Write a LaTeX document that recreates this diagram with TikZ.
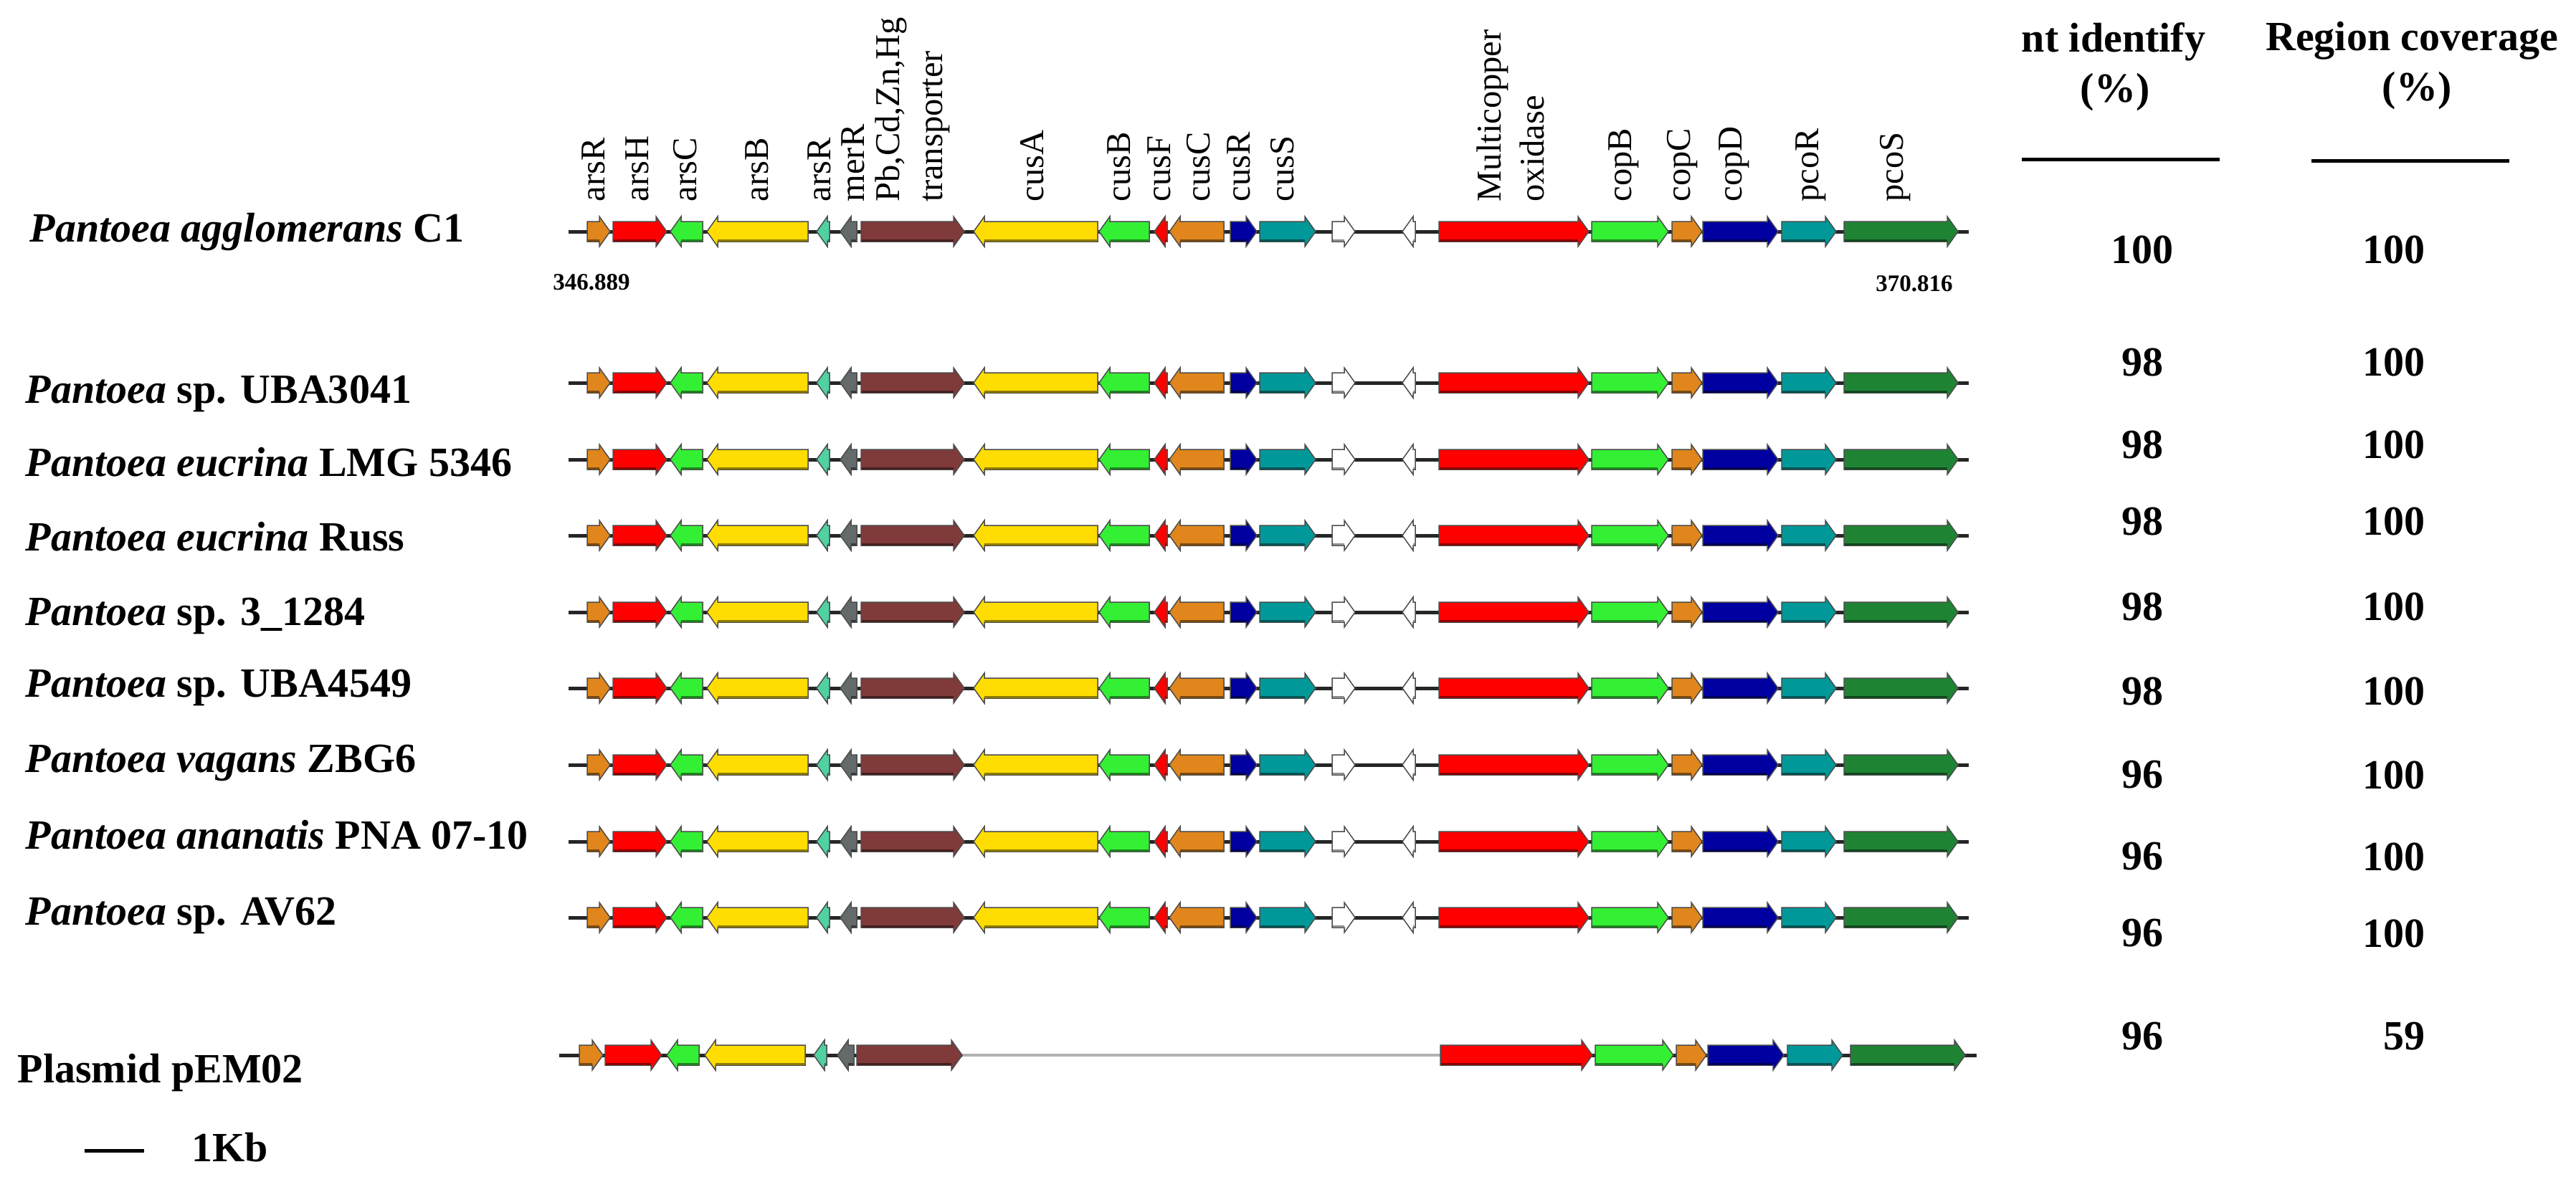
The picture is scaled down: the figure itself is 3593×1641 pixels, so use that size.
\documentclass[tikz,border=0pt]{standalone}
\usepackage{fontspec}
\setmainfont{Liberation Serif}
\definecolor{gorange}{RGB}{224,134,28}
\definecolor{gred}{RGB}{255,0,0}
\definecolor{ggreen}{RGB}{52,240,52}
\definecolor{gyellow}{RGB}{255,221,0}
\definecolor{gaqua}{RGB}{80,210,160}
\definecolor{ggray}{RGB}{100,106,106}
\definecolor{gbrown}{RGB}{128,58,58}
\definecolor{gnavy}{RGB}{0,0,160}
\definecolor{gteal}{RGB}{0,152,152}
\definecolor{gdkgreen}{RGB}{30,132,52}
\definecolor{gwhite}{RGB}{255,255,255}
\tikzset{
  genebox/.style={draw=black!70, line width=0.015cm, line join=miter},
  backbone/.style={line width=0.05cm, black!85},
  species/.style={anchor=base west, inner sep=0pt, font=\fontsize{16.5}{20}\selectfont\bfseries},
  genelab/.style={rotate=90, anchor=west, inner sep=0pt, font=\fontsize{13.8}{17}\selectfont, align=left},
  numlab/.style={inner sep=0pt, font=\fontsize{16.5}{20}\selectfont\bfseries},
  headlab/.style={anchor=base, inner sep=0pt, font=\fontsize{16.5}{20}\selectfont\bfseries},
  coordlab/.style={inner sep=0pt, font=\fontsize{9.4}{11}\selectfont\bfseries},
  rule/.style={line width=0.05cm, black},
}
% right-pointing gene: start, end, y, colour
\newcommand{\gR}[4]{%
  \pgfmathsetmacro{\gHL}{min(15,#2-#1)}%
  \pgfmathsetmacro{\gHB}{#2-\gHL}%
  \filldraw[genebox, fill=#4] (#1,#3-14) -- (\gHB,#3-14) -- (\gHB,#3-21) -- (#2,#3) -- (\gHB,#3+21) -- (\gHB,#3+14) -- (#1,#3+14) -- cycle;
  \draw[line width=0.025cm, #4!55!black] (#1+1,#3+12.5) -- (\gHB,#3+12.5);
}
% left-pointing gene: start, end, y, colour
\newcommand{\gL}[4]{%
  \pgfmathsetmacro{\gHL}{min(15,#2-#1)}%
  \pgfmathsetmacro{\gHB}{#1+\gHL}%
  \filldraw[genebox, fill=#4] (#2,#3-14) -- (\gHB,#3-14) -- (\gHB,#3-21) -- (#1,#3) -- (\gHB,#3+21) -- (\gHB,#3+14) -- (#2,#3+14) -- cycle;
  \draw[line width=0.025cm, #4!55!black] (#2-1,#3+12.5) -- (\gHB,#3+12.5);
}
\newcommand{\stdrow}[1]{%
  \draw[backbone] (793,#1) -- (2746,#1);
  \gR{819}{851}{#1}{gorange}
  \gR{855}{930}{#1}{gred}
  \gL{935}{980}{#1}{ggreen}
  \gL{986}{1127}{#1}{gyellow}
  \gL{1139}{1157}{#1}{gaqua}
  \gL{1172}{1195}{#1}{ggray}
  \gR{1201}{1345}{#1}{gbrown}
  \gL{1358}{1531}{#1}{gyellow}
  \gL{1533}{1603}{#1}{ggreen}
  \gL{1610}{1628}{#1}{gred}
  \gL{1631}{1707}{#1}{gorange}
  \gR{1716}{1753}{#1}{gnavy}
  \gR{1757}{1835}{#1}{gteal}
  \gR{1858}{1890}{#1}{gwhite}
  \gL{1956}{1974}{#1}{gwhite}
  \gR{2007}{2216}{#1}{gred}
  \gR{2220}{2327}{#1}{ggreen}
  \gR{2332}{2374}{#1}{gorange}
  \gR{2375}{2480}{#1}{gnavy}
  \gR{2485}{2561}{#1}{gteal}
  \gR{2572}{2731}{#1}{gdkgreen}
}
\begin{document}
\begin{tikzpicture}[x=0.01cm, y=-0.01cm]
\useasboundingbox (0,0) rectangle (3593,1641);

% gene maps
\foreach \ry in {323,534,641,747,854,960,1067,1174,1280} {\stdrow{\ry}}

% plasmid row
\draw[backbone] (780,1472) -- (1342,1472);
\draw[line width=0.035cm, black!30] (1342,1472) -- (2009,1472);
\draw[backbone] (2009,1472) -- (2757,1472);
\gR{808}{841}{1472}{gorange}
\gR{844}{923}{1472}{gred}
\gL{930}{975}{1472}{ggreen}
\gL{983}{1123}{1472}{gyellow}
\gL{1135}{1153}{1472}{gaqua}
\gL{1168}{1191}{1472}{ggray}
\gR{1195}{1342}{1472}{gbrown}
\gR{2009}{2221}{1472}{gred}
\gR{2225}{2334}{1472}{ggreen}
\gR{2338}{2380}{1472}{gorange}
\gR{2382}{2488}{1472}{gnavy}
\gR{2493}{2570}{1472}{gteal}
\gR{2581}{2741}{1472}{gdkgreen}

% gene labels
\node[genelab] (l1) at (828,282) {arsR};
\node[genelab] (l2) at (889,282) {arsH};
\node[genelab] (l3) at (956,282) {arsC};
\node[genelab] (l4) at (1056,282) {arsB};
\node[genelab] (l5) at (1143,282) {arsR};
\node[genelab] (l6) at (1190,282) {merR};
\node[genelab] (l7) at (1273,282) {Pb,Cd,Zn,Hg\\transporter};
\node[genelab] (l8) at (1440,282) {cusA};
\node[genelab] (l9) at (1561,282) {cusB};
\node[genelab] (l10) at (1617,282) {cusF};
\node[genelab] (l11) at (1672,282) {cusC};
\node[genelab] (l12) at (1728,282) {cusR};
\node[genelab] (l13) at (1789,282) {cusS};
\node[genelab] (l14) at (2107,282) {Multicopper\\oxidase};
\node[genelab] (l15) at (2265,282) {copB};
\node[genelab] (l16) at (2347,282) {copC};
\node[genelab] (l17) at (2419,282) {copD};
\node[genelab] (l18) at (2526,282) {pcoR};
\node[genelab] (l19) at (2644,282) {pcoS};

% coordinates
\node[coordlab] (c1) at (825,394) {346.889};
\node[coordlab] (c2) at (2670,396) {370.816};

% species labels
\node[species] (s1) at (41,337) {\textit{Pantoea agglomerans} C1};
\node[species] (s2) at (35,562) {\textit{Pantoea} sp. UBA3041};
\node[species] (s3) at (35,664) {\textit{Pantoea eucrina} LMG 5346};
\node[species] (s4) at (35,768) {\textit{Pantoea eucrina} Russ};
\node[species] (s5) at (35,872) {\textit{Pantoea} sp. 3\_1284};
\node[species] (s6) at (35,972) {\textit{Pantoea} sp. UBA4549};
\node[species] (s7) at (35,1077) {\textit{Pantoea vagans} ZBG6};
\node[species] (s8) at (35,1184) {\textit{Pantoea ananatis} PNA 07-10};
\node[species] (s9) at (35,1290) {\textit{Pantoea} sp. AV62};
\node[species] (s10) at (24,1510) {Plasmid pEM02};

% headers
\node[headlab] (h1a) at (2948,72) {nt identify};
\node[headlab] (h1b) at (2950,142) {(\%)};
\node[headlab] (h2a) at (3364,70) {Region coverage};
\node[headlab] (h2b) at (3371,140) {(\%)};
\draw[rule] (2820,222) -- (3096,222);
\draw[rule] (3224,224) -- (3500,224);

% values
\foreach \vy/\va/\vb [count=\i] in {348/100/100, 505/98/100, 620/98/100, 727/98/100, 846/98/100, 964/98/100, 1081/96/100, 1195/96/100, 1302/96/100, 1446/96/59} {
  \node[numlab] (ni\i) at (2988,\vy) {\va};
  \node[numlab, anchor=east] (rc\i) at (3383,\vy) {\vb};
}

% scale bar
\draw[rule] (118,1605) -- (201,1605);
\node[species] (kb) at (267,1620) {1Kb};
\end{tikzpicture}
\end{document}
